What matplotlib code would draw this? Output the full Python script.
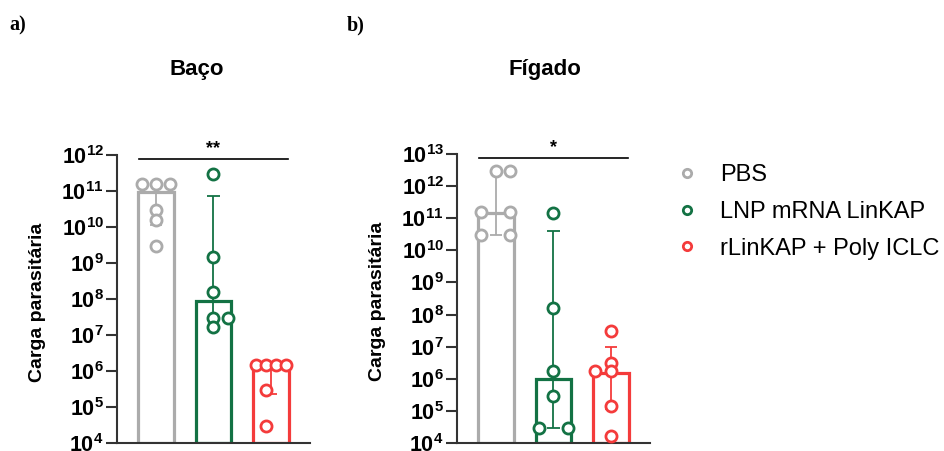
"""Carga parasitária em baço e fígado (barras log com pontos individuais)."""
import matplotlib
matplotlib.use("Agg")
import matplotlib.pyplot as plt
from matplotlib.lines import Line2D
from matplotlib.ticker import LogLocator, NullLocator, FuncFormatter
import numpy as np

plt.rcParams['font.family'] = ['Liberation Sans', 'DejaVu Sans']
plt.rcParams['mathtext.fontset'] = 'custom'
plt.rcParams['mathtext.rm'] = 'Liberation Sans:bold'
plt.rcParams['mathtext.bf'] = 'Liberation Sans:bold'
plt.rcParams['mathtext.it'] = 'Liberation Sans:bold'

groups = ["PBS", "LNP mRNA LinKAP", "rLinKAP + Poly ICLC"]
colors = ["#ABABAB", "#137244", "#F43B3B"]

# Baço (a)
baco_points = [
    [1.6e11, 1.6e11, 1.6e11, 2.9e10, 1.6e10, 3.0e9],
    [2.9e11, 1.5e9, 1.6e8, 3.0e7, 3.0e7, 1.7e7],
    [1.5e6, 1.5e6, 1.5e6, 1.5e6, 3.0e5, 3.0e4],
]
baco_bar = [9.2e10, 9.0e7, 1.5e6]
baco_err_low = [1.15e10, 2.6e7, 2.3e5]
baco_err_high = [1.6e11, 7.5e10, 1.5e6]

# Fígado (b)
figado_points = [
    [3.0e12, 3.0e12, 1.6e11, 1.6e11, 3.0e10, 3.0e10],
    [1.5e11, 1.6e8, 1.7e6, 3.0e5, 2.9e4, 2.9e4],
    [3.0e7, 3.1e6, 1.7e6, 1.7e6, 1.45e5, 1.7e4],
]
figado_bar = [1.45e11, 9.5e5, 1.5e6]
figado_err_low = [3.0e10, 3.0e4, 1.15e5]
figado_err_high = [3.0e12, 3.9e10, 9.8e6]

# horizontal scatter of the dots inside each bar
baco_jitter = [
    [-0.24, 0.0, 0.25, 0.0, 0.0, 0.0],
    [0.0, 0.0, 0.0, 0.0, 0.26, 0.0],
    [-0.26, -0.09, 0.09, 0.26, -0.09, -0.09],
]
figado_jitter = [
    [0.0, 0.25, -0.26, 0.25, -0.26, 0.25],
    [0.0, 0.0, 0.0, 0.0, -0.26, 0.26],
    [0.0, 0.0, -0.27, 0.0, 0.0, 0.0],
]


def pow10_label(value, pos):
    return r"$\mathbf{10^{%d}}$" % int(round(np.log10(value)))


def draw_panel(ax, points, bar, err_low, err_high, jitter, ylim, sig_y, stars):
    for i in range(3):
        ax.bar(i, bar[i], width=0.62, bottom=ylim[0], facecolor="white",
               edgecolor=colors[i], linewidth=2.3, zorder=2)
        ax.vlines(i, err_low[i], err_high[i], color=colors[i], lw=1.3, zorder=3)
        ax.hlines([err_low[i], err_high[i]], i - 0.11, i + 0.11, color=colors[i], lw=1.3, zorder=3)
        xs = [i + j for j in jitter[i]]
        ax.plot(xs, points[i], ls="none", marker="o", ms=8, mfc="white",
                mec=colors[i], mew=2.0, zorder=4, clip_on=False)

    ax.set_yscale("log")
    ax.set_ylim(*ylim)
    ax.set_xlim(-0.68, 2.68)
    ax.yaxis.set_major_locator(LogLocator(base=10, numticks=20))
    ax.yaxis.set_minor_locator(NullLocator())
    ax.yaxis.set_major_formatter(FuncFormatter(pow10_label))
    ax.set_xticks([])
    ax.spines['top'].set_visible(False)
    ax.spines['right'].set_visible(False)
    for side in ('left', 'bottom'):
        ax.spines[side].set_linewidth(1.5)
        ax.spines[side].set_color("#333333")
    ax.tick_params(axis='y', which='major', length=8, width=1.5, color="#333333",
                   labelsize=15.5, pad=1.5)
    ax.set_ylabel("Carga parasitária", fontsize=14, fontweight="bold")
    ax.yaxis.set_label_coords(-0.37, 0.49)

    ax.plot([-0.3, 2.3], [sig_y, sig_y], color="black", lw=1.2, clip_on=False)
    ax.text(1, sig_y * 1.15, stars, ha="center", va="bottom", fontsize=13,
            fontweight="bold", clip_on=False)


fig = plt.figure(figsize=(9.45, 4.51), dpi=100)
ax1 = fig.add_axes([0.1238, 0.0177, 0.2042, 0.6386])
ax2 = fig.add_axes([0.4836, 0.0177, 0.2042, 0.6408])

draw_panel(ax1, baco_points, baco_bar, baco_err_low, baco_err_high, baco_jitter,
           (1e4, 1e12), 7.8e11, "**")
draw_panel(ax2, figado_points, figado_bar, figado_err_low, figado_err_high, figado_jitter,
           (1e4, 1e13), 7.5e12, "*")

fig.text(197 / 945, 1 - 70 / 451, "Baço", ha="center", va="center", fontsize=16, fontweight="bold")
fig.text(545 / 945, 1 - 70 / 451, "Fígado", ha="center", va="center", fontsize=16, fontweight="bold")
fig.text(9 / 945, 1 - 25 / 451, "a)", ha="left", va="center", fontsize=14.5, fontweight="bold",
         family="Liberation Serif")
fig.text(347 / 945, 1 - 25 / 451, "b)", ha="left", va="center", fontsize=14.5, fontweight="bold",
         family="Liberation Serif")

handles = [Line2D([], [], ls="none", marker="o", ms=6, mfc="white", mec=c, mew=2.0) for c in colors]
fig.legend(handles, groups, loc="upper left", bbox_to_anchor=(666 / 945, 1 - 155 / 451),
           frameon=False, fontsize=17, handlelength=1.0, handletextpad=0.9, labelspacing=0.62,
           borderaxespad=0)

fig.savefig("out.png", dpi=100)
